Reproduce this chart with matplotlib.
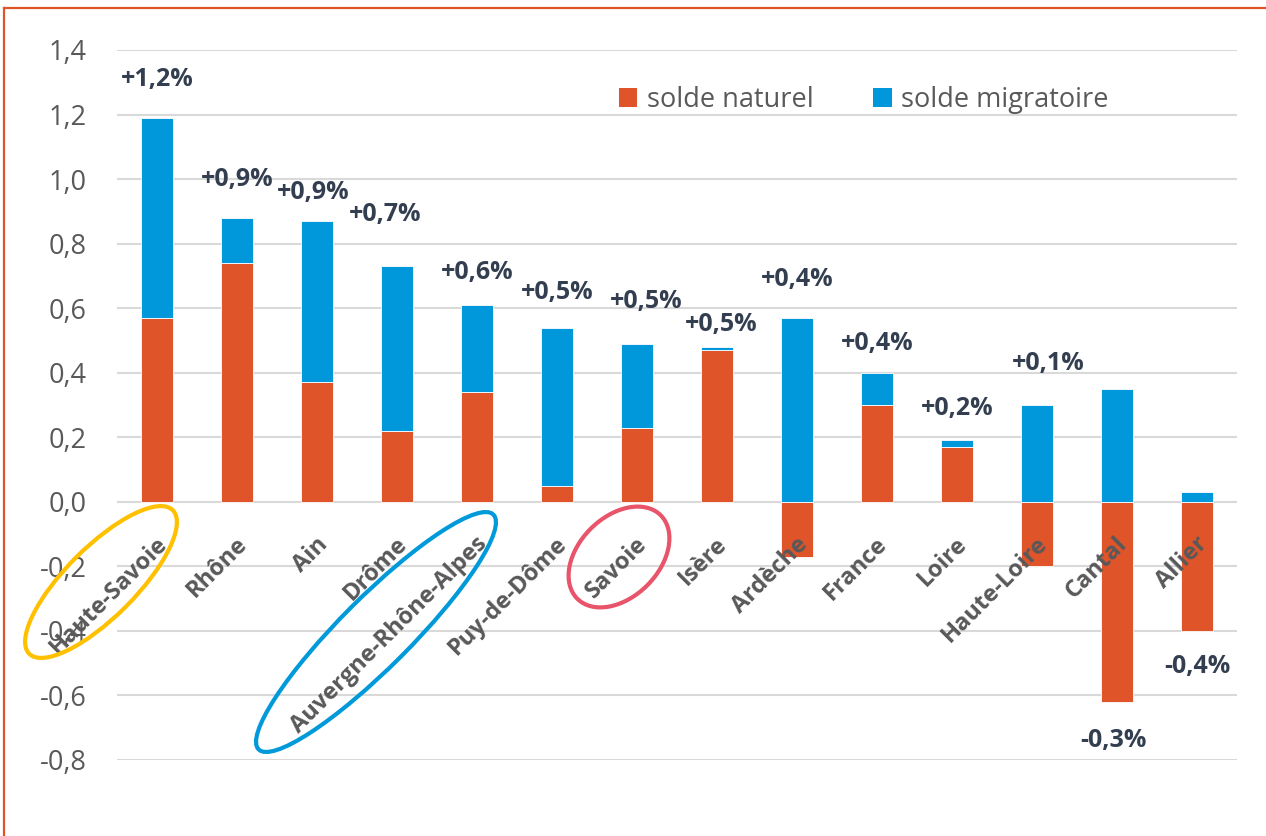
import numpy as np
import matplotlib
matplotlib.use("Agg")
import matplotlib.pyplot as plt
from matplotlib.patches import Ellipse, Patch
from matplotlib.lines import Line2D
from matplotlib.transforms import IdentityTransform

plt.rcParams['font.family'] = ['Open Sans', 'DejaVu Sans']

categories = ["Haute-Savoie", "Rhône", "Ain", "Drôme", "Auvergne-Rhône-Alpes",
              "Puy-de-Dôme", "Savoie", "Isère", "Ardèche", "France", "Loire",
              "Haute-Loire", "Cantal", "Allier"]
solde_naturel = [0.57, 0.74, 0.37, 0.22, 0.34, 0.05, 0.23, 0.47, -0.17, 0.30,
                 0.17, -0.20, -0.62, -0.40]
solde_migratoire = [0.62, 0.14, 0.50, 0.51, 0.27, 0.49, 0.26, 0.01, 0.57, 0.10,
                    0.02, 0.30, 0.35, 0.03]
total_labels = ["+1,2%", "+0,9%", "+0,9%", "+0,7%", "+0,6%", "+0,5%", "+0,5%",
                "+0,5%", "+0,4%", "+0,4%", "+0,2%", "+0,1%", "-0,3%", "-0,4%"]
yticks = [-0.8, -0.6, -0.4, -0.2, 0.0, 0.2, 0.4, 0.6, 0.8, 1.0, 1.2, 1.4]

# layout of the total labels (data units)
label_y = [1.31, 1.00, 0.96, 0.89, 0.71, 0.65, 0.62, 0.55, 0.69, 0.49, 0.29,
           0.43, -0.74, -0.51]
label_dx = [0, 0, -0.05, -0.15, 0, 0, 0.12, 0.05, 0, 0, 0, 0.14, -0.04, 0]

ORANGE = '#E0542A'
BLUE = '#0098DA'
GRID = '#D9D9D9'
GREY = '#595959'
NAVY = '#333F50'

W, H = 1266, 836
fig = plt.figure(figsize=(W / 100, H / 100), dpi=100)
ax = fig.add_axes([117 / W, 1 - 760 / H, (1237 - 117) / W, (760 - 50) / H])

x = np.arange(len(categories))
nat = np.array(solde_naturel)
mig = np.array(solde_migratoire)
bottom_mig = np.where(nat > 0, nat, 0)

ax.bar(x, nat, width=0.4, color=ORANGE, edgecolor='white', linewidth=0.6, zorder=3)
ax.bar(x, mig, width=0.4, bottom=bottom_mig, color=BLUE, edgecolor='white',
       linewidth=0.6, zorder=3)

ax.set_xlim(-0.5, len(categories) - 0.5)
ax.set_ylim(-0.8, 1.4)
ax.set_yticks(yticks)
ax.set_yticklabels([f"{v:.1f}".replace('.', ',') for v in yticks],
                   fontsize=19.5, color=GREY)
ax.tick_params(axis='y', length=0, pad=21.6)
ax.set_xticks([])
for s in ax.spines.values():
    s.set_visible(False)
ax.grid(axis='y', color=GRID, linewidth=1.5, zorder=0)
ax.set_axisbelow(True)

for i, name in enumerate(categories):
    ax.annotate(name, xy=(i, 0), xycoords='data', xytext=(5, -28),
                textcoords='offset points', rotation=45, ha='right', va='center',
                rotation_mode='anchor', fontsize=17, fontweight='bold', color=GREY,
                zorder=5, annotation_clip=False)

for i, lab in enumerate(total_labels):
    ax.text(i + label_dx[i], label_y[i], lab, ha='center', va='center',
            fontsize=18, fontweight='bold', color=NAVY, zorder=5)

handles = [Patch(facecolor=ORANGE, edgecolor='none'),
           Patch(facecolor=BLUE, edgecolor='none')]
fig.legend(handles, ["solde naturel", "solde migratoire"], loc='center left',
           bbox_to_anchor=(619 / W, 1 - 100 / H), ncol=2, frameon=False,
           fontsize=19.5, labelcolor=GREY, handlelength=0.68, handleheight=0.68,
           handletextpad=0.35, columnspacing=2.2, borderpad=0, borderaxespad=0)

# ellipses (pixel coordinates)
for (cx, cy, w, h, ang, col) in [(101, 582, 203, 70, 45, '#FFC000'),
                                  (376, 632, 332, 70, 45, '#0099DA'),
                                  (619, 557, 118, 80, 45, '#E8546A')]:
    e = Ellipse((cx, H - cy), w, h, angle=ang, fill=False, edgecolor=col,
                linewidth=3, transform=IdentityTransform(), zorder=10)
    fig.add_artist(e)

# orange frame
fig.add_artist(Line2D([4 / W, 1.0], [1 - 8 / H, 1 - 8 / H], color=ORANGE,
                      linewidth=1.6, transform=fig.transFigure))
fig.add_artist(Line2D([4 / W, 4 / W], [0, 1 - 8 / H], color=ORANGE,
                      linewidth=1.6, transform=fig.transFigure))

fig.savefig("out.png", dpi=100)
